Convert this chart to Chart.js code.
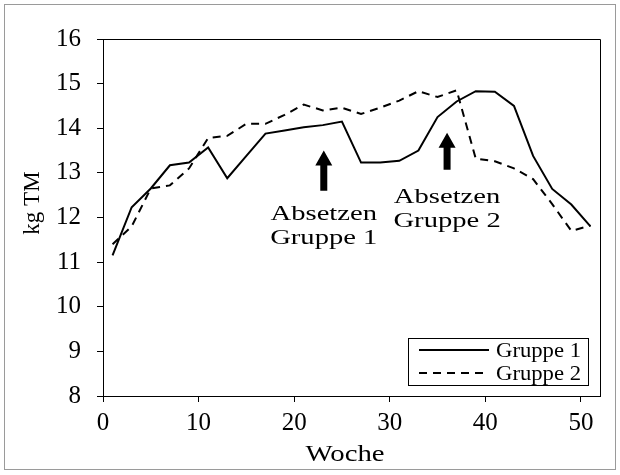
<!DOCTYPE html>
<html>
<head>
<meta charset="utf-8">
<script src="https://cdn.jsdelivr.net/npm/chart.js@4"></script>
<style>
html,body{margin:0;padding:0;background:#fff;}
#wrap{width:620px;height:475px;position:relative;}
</style>
</head>
<body>
<div id="wrap"><canvas id="c" width="620" height="475"></canvas></div>
<script>
// ---- data ----
const weeks = [1,3,5,7,9,11,13,15,17,19,21,23,25,27,29,31,33,35,37,39,41,43,45,47,49,51];
const gruppe1 = [11.15,12.23,12.65,13.17,13.23,13.57,12.88,13.38,13.88,13.95,14.02,14.07,14.15,13.23,13.23,13.27,13.5,14.25,14.6,14.83,14.82,14.5,13.38,12.64,12.29,11.8];
const gruppe2 = [11.4,11.8,12.65,12.72,13.1,13.78,13.83,14.1,14.1,14.3,14.53,14.4,14.46,14.32,14.46,14.62,14.83,14.7,14.85,13.32,13.26,13.1,12.86,12.3,11.7,11.82];
const seriesNames = ['Gruppe 1','Gruppe 2'];
const xTicks = [0,10,20,30,40,50];
const yTicks = [8,9,10,11,12,13,14,15,16];
const xTitle = 'Woche';
const yTitle = 'kg TM';
// annotations: week, arrow from value, arrow to value, label lines
const arrowWeeks = [23.1, 36.0];
const arrowFrom = [12.6, 13.07];
const arrowTo = [13.5, 13.9];
const noteLines = [['Absetzen','Gruppe 1'],['Absetzen','Gruppe 2']];
const noteValues = [[12.07,11.53],[12.46,11.92]];

const FONT = '"Liberation Serif", "Times New Roman", serif';

const toXY = (xs, ys) => xs.map((x,i)=>({x:x, y:ys[i]}));

function wideText(ctx, text, x, y, sx){
  ctx.save();
  ctx.translate(x, y);
  ctx.scale(sx, 1);
  ctx.fillText(text, 0, 0);
  ctx.restore();
}

const decor = {
  id:'decor',
  afterDraw(chart){
    const ctx = chart.ctx, a = chart.chartArea;
    const sx = chart.scales.x, sy = chart.scales.y;
    ctx.save();
    // outer frame
    ctx.strokeStyle = '#9a9a9a'; ctx.lineWidth = 1;
    ctx.strokeRect(4.5,4.5,611,465);
    // plot box top/right
    ctx.strokeStyle = '#000'; ctx.lineWidth = 1;
    ctx.beginPath();
    ctx.moveTo(a.left, a.top+0.5); ctx.lineTo(a.right+0.5, a.top+0.5); ctx.lineTo(a.right+0.5, a.bottom);
    ctx.stroke();
    // axis titles
    ctx.fillStyle = '#000';
    ctx.font = '23px ' + FONT;
    ctx.textAlign = 'center'; ctx.textBaseline = 'middle';
    wideText(ctx, xTitle, 345, 455, 1.25);
    ctx.save();
    ctx.translate(33, 203); ctx.rotate(-Math.PI/2);
    ctx.fillText(yTitle, 0, 0);
    ctx.restore();
    // arrows & notes
    for (let i=0;i<arrowWeeks.length;i++){
      const x = sx.getPixelForValue(arrowWeeks[i]);
      const y0 = sy.getPixelForValue(arrowFrom[i]);
      const y1 = sy.getPixelForValue(arrowTo[i]);
      const hw = 8.5, sw = 3.5, hl = 15;
      ctx.beginPath();
      ctx.moveTo(x, y1);
      ctx.lineTo(x+hw, y1+hl);
      ctx.lineTo(x+sw, y1+hl);
      ctx.lineTo(x+sw, y0);
      ctx.lineTo(x-sw, y0);
      ctx.lineTo(x-sw, y1+hl);
      ctx.lineTo(x-hw, y1+hl);
      ctx.closePath();
      ctx.fill();
      ctx.font = '22px ' + FONT;
      noteLines[i].forEach((t,j)=>{
        wideText(ctx, t, x, sy.getPixelForValue(noteValues[i][j]), 1.3);
      });
    }
    // legend
    const lx = 408, ly = 338, lw = 180, lh = 47;
    ctx.fillStyle = '#fff';
    ctx.fillRect(lx, ly, lw, lh);
    ctx.strokeStyle = '#000'; ctx.lineWidth = 1;
    ctx.strokeRect(lx+0.5, ly+0.5, lw, lh);
    ctx.fillStyle = '#000';
    ctx.font = '21px ' + FONT;
    ctx.textAlign = 'left';
    chart.data.datasets.forEach((ds,k)=>{
      const yy = ly + 12 + k*23;
      ctx.beginPath();
      ctx.lineWidth = 2;
      ctx.setLineDash(ds.borderDash || []);
      ctx.moveTo(lx+11, yy); ctx.lineTo(lx+81, yy);
      ctx.stroke();
      ctx.setLineDash([]);
      wideText(ctx, ds.label, lx+88, yy+1, 1.08);
    });
    ctx.restore();
  }
};

new Chart(document.getElementById('c'), {
  type:'line',
  data:{
    datasets:[
      {label:seriesNames[0], data:toXY(weeks,gruppe1), borderColor:'#000', borderWidth:2, pointRadius:0, tension:0, fill:false},
      {label:seriesNames[1], data:toXY(weeks,gruppe2), borderColor:'#000', borderWidth:2, borderDash:[8,6], pointRadius:0, tension:0, fill:false}
    ]
  },
  options:{
    responsive:false,
    animation:false,
    layout:{padding:{top:39,right:20,left:0,bottom:0}},
    plugins:{legend:{display:false}, tooltip:{enabled:false}},
    scales:{
      x:{
        type:'linear', min:0, max:52,
        afterBuildTicks: s => { s.ticks = xTicks.map(v=>({value:v})); },
        afterFit: s => { s.height = 79; },
        ticks:{font:{family:FONT,size:25}, color:'#000', padding:6, maxRotation:0},
        grid:{drawOnChartArea:false, drawTicks:true, tickLength:6, color:'#000'},
        border:{display:true, color:'#000', width:1}
      },
      y:{
        min:8, max:16,
        afterBuildTicks: s => { s.ticks = yTicks.map(v=>({value:v})); },
        afterFit: s => { s.width = 103; },
        ticks:{font:{family:FONT,size:25}, color:'#000', padding:16},
        grid:{drawOnChartArea:false, drawTicks:true, tickLength:6, color:'#000'},
        border:{display:true, color:'#000', width:1}
      }
    }
  },
  plugins:[decor]
});
</script>
</body>
</html>
